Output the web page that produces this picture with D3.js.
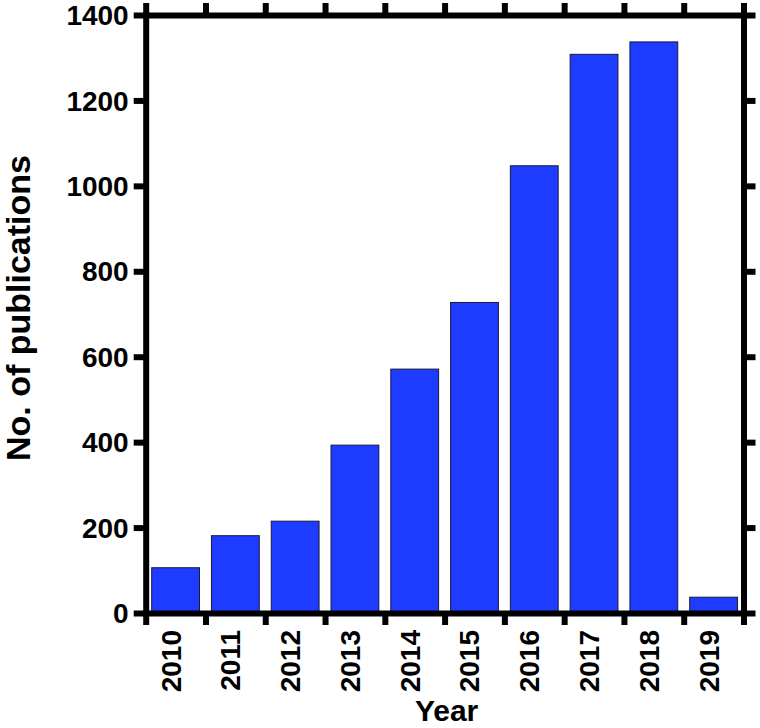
<!DOCTYPE html>
<html>
<head>
<meta charset="utf-8">
<script src="https://cdn.jsdelivr.net/npm/d3@7.9.0/dist/d3.min.js"></script>
<style>
  body { margin: 0; background: #fff; }
  svg { display: block; font-family: "Liberation Sans", Arial, sans-serif; font-weight: bold; }
</style>
</head>
<body>
<svg width="760" height="728"></svg>
<script>
// Data
const years = ['2010', '2011', '2012', '2013', '2014', '2015', '2016', '2017', '2018', '2019'];
const publications = [106, 181, 215, 393, 571, 727, 1047, 1308, 1337, 37];
const yTicks = [0, 200, 400, 600, 800, 1000, 1200, 1400];

const svg = d3.select('svg');

// Plot frame (avoid "top", it clashes with window.top)
const plotLeft = 145.7, plotRight = 743.5, plotTop = 15, plotBottom = 613;

// Scales
const x = d3.scaleBand().domain(years).range([plotLeft, plotRight]).paddingInner(0.2).paddingOuter(0.1);
const xEdge = d3.scaleLinear().domain([0, years.length]).range([plotLeft, plotRight]);
const y = d3.scaleLinear().domain([0, 1400]).range([plotBottom, plotTop]);

// Bars
svg.append('g')
  .selectAll('rect')
  .data(years)
  .join('rect')
  .attr('x', (d) => x(d))
  .attr('width', x.bandwidth())
  .attr('y', (d, i) => y(publications[i]))
  .attr('height', (d, i) => y(0) - y(publications[i]))
  .attr('fill', '#1e3cff')
  .attr('stroke', '#1a1a3a')
  .attr('stroke-width', 1);

// Frame axes: ticks on all four sides, pointing outward
const edgeTicks = d3.range(years.length + 1);

function styleAxis(g) {
  g.select('.domain').attr('stroke', '#000').attr('stroke-width', 6).attr('stroke-linecap', 'square');
  g.selectAll('.tick line').attr('stroke', '#000').attr('stroke-width', 6);
  g.selectAll('.tick text').remove();
}

svg.append('g')
  .attr('transform', `translate(0,${plotBottom})`)
  .call(d3.axisBottom(xEdge).tickValues(edgeTicks).tickSize(12).tickSizeOuter(0))
  .call(styleAxis);

svg.append('g')
  .attr('transform', `translate(0,${plotTop})`)
  .call(d3.axisTop(xEdge).tickValues(edgeTicks).tickSize(12).tickSizeOuter(0))
  .call(styleAxis);

svg.append('g')
  .attr('transform', `translate(${plotLeft},0)`)
  .call(d3.axisLeft(y).tickValues(yTicks).tickSize(12).tickSizeOuter(0))
  .call(styleAxis);

svg.append('g')
  .attr('transform', `translate(${plotRight},0)`)
  .call(d3.axisRight(y).tickValues(yTicks).tickSize(12).tickSizeOuter(0))
  .call(styleAxis);

// Y tick labels
svg.append('g')
  .selectAll('text')
  .data(yTicks)
  .join('text')
  .attr('x', plotLeft - 17)
  .attr('y', (d) => y(d))
  .attr('dy', '0.36em')
  .attr('text-anchor', 'end')
  .attr('font-size', 28)
  .text((d) => d);

// X tick labels (rotated)
svg.append('g')
  .selectAll('text')
  .data(years)
  .join('text')
  .attr('transform', (d) => `translate(${x(d) + x.bandwidth() / 2 + 5},${plotBottom + 17}) rotate(-90)`)
  .attr('text-anchor', 'end')
  .attr('font-size', 28)
  .text((d) => d);

// Axis titles
svg.append('text')
  .attr('x', (plotLeft + plotRight) / 2 + 2)
  .attr('y', 721)
  .attr('text-anchor', 'middle')
  .attr('font-size', 30)
  .text('Year');

svg.append('text')
  .attr('transform', `translate(30,308) rotate(-90)`)
  .attr('text-anchor', 'middle')
  .attr('font-size', 34)
  .text('No. of publications');
</script>
</body>
</html>
